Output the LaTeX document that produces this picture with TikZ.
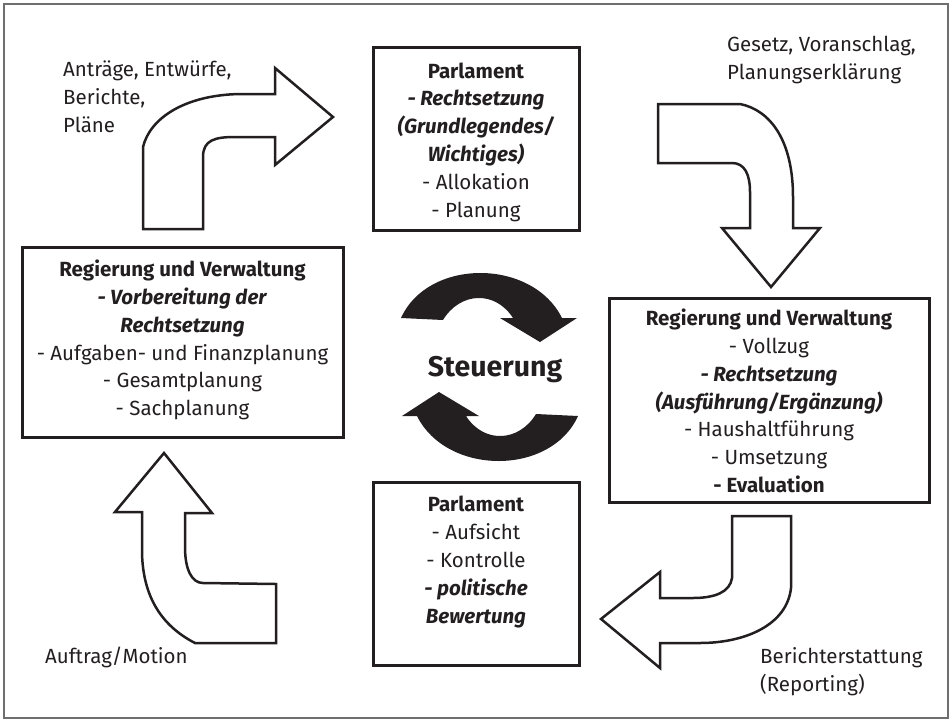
\documentclass[tikz,border=0pt]{standalone}
\usepackage{fontspec}
\setmainfont{Fira Sans}
\definecolor{ink}{HTML}{231F20}
\definecolor{framegray}{HTML}{6E6E6E}
\begin{document}
\begin{tikzpicture}[x=1pt,y=-1pt,
  box/.style={draw=ink, line width=3pt, fill=white, inner sep=0pt},
  boxtext/.style={align=center, inner sep=0pt, font=\fontsize{20.5}{27.8}\selectfont, text=ink},
  hollow/.style={draw=ink, line width=2.5pt, fill=white, line join=miter},
  lbl/.style={align=left, inner sep=0pt, font=\fontsize{20.5}{27.8}\selectfont, text=ink, anchor=base west},
  turn/.style={fill=ink, draw=none}]
\useasboundingbox (0,0) rectangle (952,720);
\draw[framegray, line width=1.5pt] (4,4) rectangle (948,718);

% boxes
\node[box, minimum width=206pt, minimum height=183pt] (parlTop) at (476,138.5) {};
\node[boxtext] (parlTopText) at (476,142) 
  {\textbf{Parlament}\\ \textbf{\textit{- Rechtsetzung}}\\ \textbf{\textit{(Grundlegendes/}}\\ \textbf{\textit{Wichtiges)}}\\ - Allokation\\ - Planung};
\node[box, minimum width=321pt, minimum height=190pt] (regLeft) at (182.5,342) {};
\node[boxtext] (regLeftText) at (182.5,340)
  {\textbf{Regierung und Verwaltung}\\ \textbf{\textit{- Vorbereitung der}}\\ \textbf{\textit{Rechtsetzung}}\\ - Aufgaben- und Finanzplanung\\ - Gesamtplanung\\ - Sachplanung};
\node[box, minimum width=320pt, minimum height=204pt] (regRight) at (769,400) {};
\node[boxtext] (regRightText) at (769,401)
  {\textbf{Regierung und Verwaltung}\\ - Vollzug\\ \textbf{\textit{- Rechtsetzung}}\\ \textbf{\textit{(Ausführung/Ergänzung)}}\\ - Haushaltführung\\ - Umsetzung\\ \textbf{- Evaluation}};
\node[box, minimum width=206pt, minimum height=183pt] (parlBottom) at (476,573.5) {};
\node[boxtext] (parlBottomText) at (476,562)
  {\textbf{Parlament}\\ - Aufsicht\\ - Kontrolle\\ \textbf{\textit{- politische}}\\ \textbf{\textit{Bewertung}}};

% hollow bent arrows
\draw[hollow] (143,229) -- (143,147) .. controls (150,118) and (185,95) .. (240,94) -- (275,94) -- (275,68) -- (333,117) -- (275,165) -- (275,137) -- (235,137) .. controls (215,137) and (203,140) .. (203,157) -- (203,229) -- cycle;
\draw[hollow] (658,104) -- (740,104) .. controls (770,110) and (793,140) .. (793,197) -- (793,228) -- (820,228) -- (771,287) -- (722,228) -- (750,228) -- (750,192) .. controls (750,175) and (745,163) .. (732,163) -- (658,163) -- cycle;
\draw[hollow] (732,516) -- (791,516) -- (791,588) .. controls (787,625) and (745,643) .. (700,643) -- (660,643) -- (660,668) -- (601,619) -- (660,572) -- (660,598) -- (693,598) .. controls (715,598) and (730,592) .. (732,578) -- cycle;
\draw[hollow] (276,584) -- (276,643) -- (195,643) .. controls (160,625) and (143,595) .. (142,553) -- (142,512) -- (115,512) -- (164,453) -- (212,513) -- (185,513) -- (185,547) .. controls (185,570) and (192,583) .. (203,583) -- cycle;

% Steuerung turn arrows
\fill[turn] (401,318) .. controls (428,258) and (532,258) .. (562,318) -- (577,318) -- (540,342) -- (500,318) -- (513,318) .. controls (495,290) and (460,292) .. (443,320) -- cycle;
\fill[turn, rotate around={180:(489.5,367)}] (401,318) .. controls (428,258) and (532,258) .. (562,318) -- (577,318) -- (540,342) -- (500,318) -- (513,318) .. controls (495,290) and (460,292) .. (443,320) -- cycle;
\node[inner sep=0pt, anchor=base, text=ink, font=\fontsize{28.5}{32}\selectfont\bfseries] (steuerung) at (495,376) {Steuerung};

% labels (base = baseline of last line)
\node[lbl] (lblA) at (63,132) {Anträge, Entwürfe,\\Berichte,\\Pläne};
\node[lbl] (lblB) at (727,79) {Gesetz, Voranschlag,\\Planungserklärung};
\node[lbl] (lblC) at (760,691) {Berichterstattung\\(Reporting)};
\node[lbl] (lblD) at (45,663) {Auftrag/Motion};
\end{tikzpicture}
\end{document}
